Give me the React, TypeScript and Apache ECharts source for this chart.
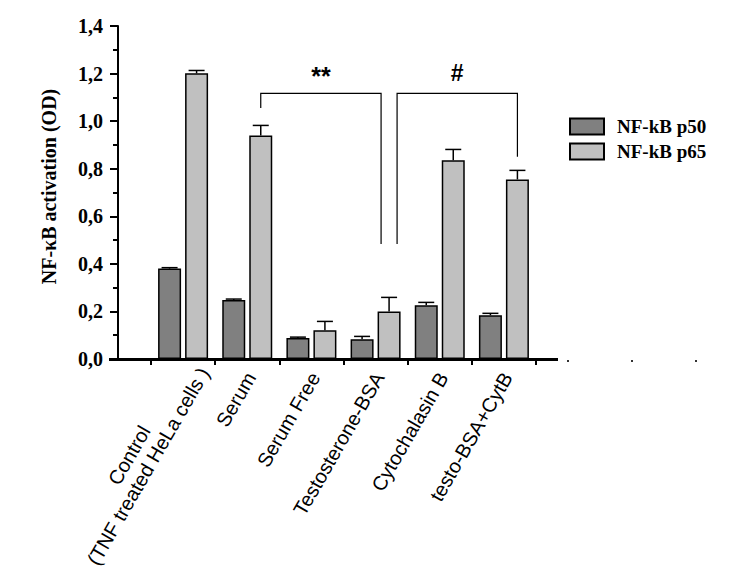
import React, { useEffect, useRef } from 'react';
import * as echarts from 'echarts';

// ---- data ----
const categories = [
  'Control\n(TNF treated HeLa cells )',
  'Serum',
  'Serum Free',
  'Testosterone-BSA',
  'Cytochalasin B',
  'testo-BSA+CytB',
];
const seriesNames = ['NF-kB p50', 'NF-kB p65'];
const p50Values = [0.38, 0.248, 0.088, 0.083, 0.226, 0.184];
const p50Errors = [0.004, 0.004, 0.004, 0.012, 0.012, 0.008];
const p65Values = [1.201, 0.94, 0.121, 0.2, 0.836, 0.755];
const p65Errors = [0.012, 0.042, 0.037, 0.059, 0.045, 0.038];
const yMin = 0;
const yMax = 1.4;
const yInterval = 0.2;
const yAxisTitle = 'NF-κB activation (OD)';
// significance brackets (category indices, heights in data units)
const bracketLabels = ['**', '#'];
const bracketFrom = [1, 3];
const bracketTo = [3, 5];
const bracketTop = [1.117, 1.117];
const bracketFromEnd = [1.055, 0.483];
const bracketToEnd = [0.483, 0.85];
const bracketLabelY = [1.19, 1.203];

// ---- styles ----
const BAR_W = 23;
const BAR_GAP = 4;
const HALF_STEP = (BAR_W + BAR_GAP) / 2;
const SPLIT = 8;
const COLORS = ['#808080', '#c0c0c0'];
const LABEL_SIZES = [25, 23];

export default function App() {
  const ref = useRef<HTMLDivElement>(null);

  useEffect(() => {
    if (!ref.current) return;
    const chart = echarts.init(ref.current, undefined, { renderer: 'svg' });

    const errSeries = (values: number[], errors: number[], sign: number) => ({
      type: 'custom',
      coordinateSystem: 'cartesian2d',
      clip: false,
      z: 5,
      silent: true,
      encode: { x: 0, y: 1 },
      data: values.map((v, i) => [i, v, errors[i]]),
      renderItem: (_p: any, api: any) => {
        const i = api.value(0);
        const v = api.value(1);
        const e = api.value(2);
        const b = api.coord([i, v]);
        const t = api.coord([i, v + e]);
        const x = b[0] + sign * HALF_STEP;
        return {
          type: 'group',
          children: [
            { type: 'line', shape: { x1: x, y1: b[1], x2: x, y2: t[1] }, style: { stroke: '#000', lineWidth: 1.5 } },
            { type: 'line', shape: { x1: x - 8, y1: t[1], x2: x + 8, y2: t[1] }, style: { stroke: '#000', lineWidth: 1.5 } },
          ],
        };
      },
    });

    const sharedIdx = bracketTo.filter((t) => bracketFrom.includes(t));

    const option: any = {
      animation: false,
      grid: { left: 151, right: 206, top: 26, bottom: 213, containLabel: false, outerBoundsMode: 'none' },
      legend: {
        orient: 'vertical',
        left: 564,
        top: 112,
        itemWidth: 34,
        itemHeight: 16,
        itemGap: 6,
        icon: 'rect',
        data: seriesNames,
        textStyle: {
          fontFamily: '"Liberation Serif", "Times New Roman", serif',
          fontWeight: 'bold',
          fontSize: 19,
          color: '#000',
          padding: [0, 0, 0, 8],
        },
      },
      xAxis: {
        type: 'category',
        data: categories.map((c) => ({
          value: c,
          textStyle: c.includes('\n') ? { padding: [4, -20, 0, 0] } : { padding: [0, -7, 0, 0] },
        })),
        axisLine: { show: true, lineStyle: { color: '#000', width: 3 } },
        axisTick: { show: true, length: 6, lineStyle: { color: '#000', width: 2 } },
        axisLabel: {
          interval: 0,
          rotate: 60,
          margin: 21,
          fontFamily: '"Liberation Sans", Arial, sans-serif',
          fontSize: 20,
          color: '#000',
          formatter: (val: string) =>
            val
              .split('\n')
              .map((l) => `{c|${l}}`)
              .join('\n'),
          rich: {
            c: {
              align: 'center',
              fontFamily: '"Liberation Sans", Arial, sans-serif',
              fontSize: 20,
              color: '#000',
              lineHeight: 22,
            },
          },
        },
        splitLine: { show: false },
      },
      yAxis: {
        type: 'value',
        min: yMin,
        max: yMax,
        interval: yInterval,
        offset: 33,
        name: yAxisTitle,
        nameLocation: 'middle',
        nameGap: 59,
        nameRotate: 90,
        nameTextStyle: {
          fontFamily: '"Liberation Serif", "Times New Roman", serif',
          fontWeight: 'bold',
          fontSize: 20,
          color: '#000',
          padding: [0, 0, 0, 12],
        },
        axisLine: { show: true, lineStyle: { color: '#000', width: 2 } },
        axisTick: { show: true, length: 8, lineStyle: { color: '#000', width: 2 } },
        minorTick: { show: true, splitNumber: 2, length: 5, lineStyle: { color: '#000', width: 2 } },
        axisLabel: {
          margin: 15,
          fontFamily: '"Liberation Serif", "Times New Roman", serif',
          fontWeight: 'bold',
          fontSize: 20,
          color: '#000',
          formatter: (v: number) => v.toFixed(1).replace('.', ','),
        },
        splitLine: { show: false },
        minorSplitLine: { show: false },
      },
      series: [
        {
          name: seriesNames[0],
          type: 'bar',
          data: p50Values,
          barWidth: BAR_W,
          barGap: `${(BAR_GAP / BAR_W) * 100}%`,
          itemStyle: { color: COLORS[0], borderColor: '#000', borderWidth: 1.5 },
          z: 3,
        },
        {
          name: seriesNames[1],
          type: 'bar',
          data: p65Values,
          barWidth: BAR_W,
          barGap: `${(BAR_GAP / BAR_W) * 100}%`,
          itemStyle: { color: COLORS[1], borderColor: '#000', borderWidth: 1.5 },
          z: 3,
        },
        errSeries(p50Values, p50Errors, -1),
        errSeries(p65Values, p65Errors, 1),
        {
          type: 'custom',
          coordinateSystem: 'cartesian2d',
          clip: false,
          silent: true,
          z: 6,
          encode: { x: 0, y: 1 },
          data: bracketLabels.map((_, k) => [bracketFrom[k], bracketTop[k], k]),
          renderItem: (_p: any, api: any) => {
            const k = api.value(2);
            const fromShift = sharedIdx.includes(bracketFrom[k]) ? SPLIT : 0;
            const toShift = sharedIdx.includes(bracketTo[k]) ? -SPLIT : 0;
            const x1 = api.coord([bracketFrom[k], 0])[0] + HALF_STEP + fromShift;
            const x2 = api.coord([bracketTo[k], 0])[0] + HALF_STEP + toShift;
            const yt = api.coord([0, bracketTop[k]])[1];
            const y1 = api.coord([0, bracketFromEnd[k]])[1];
            const y2 = api.coord([0, bracketToEnd[k]])[1];
            const yl = api.coord([0, bracketLabelY[k]])[1];
            return {
              type: 'group',
              children: [
                {
                  type: 'polyline',
                  shape: { points: [[x1, y1], [x1, yt], [x2, yt], [x2, y2]] },
                  style: { stroke: '#000', lineWidth: 1.2, fill: null },
                },
                {
                  type: 'text',
                  style: {
                    text: bracketLabels[k],
                    x: (x1 + x2) / 2,
                    y: yl,
                    align: 'center',
                    verticalAlign: 'middle',
                    textAlign: 'center',
                    textVerticalAlign: 'middle',
                    fontFamily: '"Liberation Sans", Arial, sans-serif',
                    fontWeight: 'bold',
                    fontSize: LABEL_SIZES[k],
                    fill: '#000',
                  },
                },
              ],
            };
          },
        },
      ],
      graphic: [
        { type: 'line', shape: { x1: 109, y1: 359.5, x2: 152, y2: 359.5 }, style: { stroke: '#000', lineWidth: 3 }, silent: true },
        { type: 'line', shape: { x1: 535, y1: 359.5, x2: 558, y2: 359.5 }, style: { stroke: '#000', lineWidth: 3 }, silent: true },
        { type: 'rect', shape: { x: 567, y: 360, width: 2, height: 2 }, style: { fill: '#333' }, silent: true },
        { type: 'rect', shape: { x: 631, y: 360, width: 2, height: 2 }, style: { fill: '#333' }, silent: true },
        { type: 'rect', shape: { x: 695, y: 360, width: 2, height: 2 }, style: { fill: '#333' }, silent: true },
      ],
    };

    chart.setOption(option);
    return () => chart.dispose();
  }, []);

  return (
    <div
      ref={ref}
      style={{ position: 'fixed', left: 0, top: 0, width: 742, height: 572, background: '#fff' }}
    />
  );
}
